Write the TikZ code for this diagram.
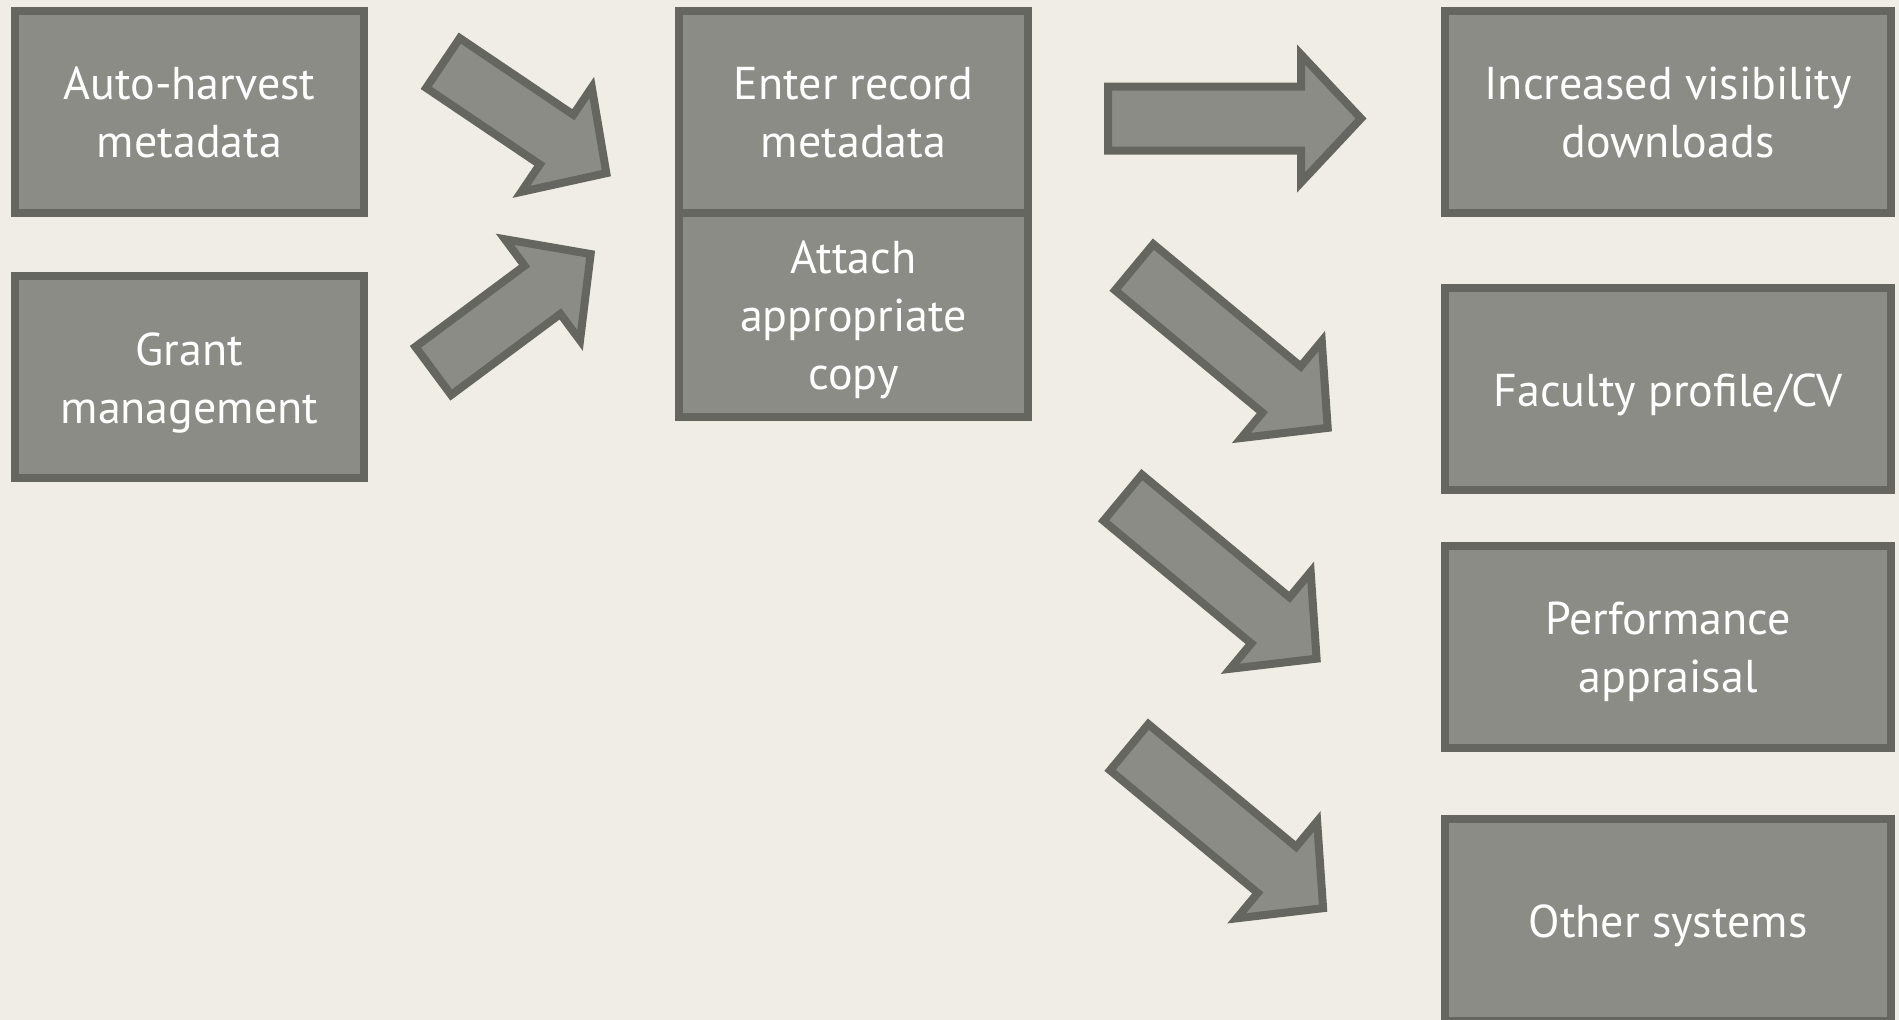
\documentclass[tikz,border=0pt]{standalone}
\usepackage{fontspec}
\setmainfont{PT Sans}
\definecolor{bgc}{HTML}{EFEDE6}
\definecolor{boxfill}{HTML}{8B8C85}
\definecolor{boxline}{HTML}{65665F}
\tikzset{
  box/.style={draw=boxline, fill=boxfill, line width=8pt, inner sep=0pt, minimum height=202pt},
  boxtext/.style={text=white, align=center, inner sep=0pt, yshift=-5.5pt,
    font=\fontsize{46}{58}\selectfont,
    execute at begin node={\vphantom{Ahd}},
    execute at end node={\vphantom{gy}}},
  leftbox/.style={box, minimum width=349pt},
  midbox/.style={box, minimum width=349pt},
  rightbox/.style={box, minimum width=446pt},
  barrow/.style={draw=boxline, fill=boxfill, line width=8pt, line join=miter}
}
% #1 tail coordinate, #2 angle, #3 length, #4 shaft width, #5 head width, #6 head length
\newcommand\blockarrow[6]{%
  \begin{scope}[shift={(#1)}, rotate=#2]
    \draw[barrow] (0,{-#4/2}) -- ({#3-#6},{-#4/2}) -- ({#3-#6},{-#5/2}) -- (#3,0)
      -- ({#3-#6},{#5/2}) -- ({#3-#6},{#4/2}) -- (0,{#4/2}) -- cycle;
  \end{scope}}
\begin{document}
\begin{tikzpicture}[x=1pt,y=-1pt]
\useasboundingbox (0,0) rectangle (1899,1020);
\fill[bgc] (0,0) rectangle (1899,1020);
\clip (0,0) rectangle (1899,1020);

% left boxes
\node[leftbox, label={[boxtext]center:Auto-harvest\\metadata}] (auto) at (189.5,112) {};
\node[leftbox, label={[boxtext]center:Grant\\management}] (grant) at (189.5,377) {};

% middle boxes
\node[midbox, label={[boxtext]center:Enter record\\metadata}] (enter) at (853.5,112) {};
\node[midbox, minimum height=204pt, label={[boxtext]center:Attach\\appropriate\\copy}] (attach) at (853.5,315) {};

% right boxes
\node[rightbox, label={[boxtext]center:Increased visibility\\downloads}] (vis) at (1668,112) {};
\node[rightbox, label={[boxtext]center:Faculty profile/CV}] (fac) at (1668,389) {};
\node[rightbox, label={[boxtext]center:Performance\\appraisal}] (perf) at (1668,647) {};
\node[rightbox, label={[boxtext]center:Other systems}] (other) at (1668,920) {};

% block arrows
\coordinate (a1) at (443,63);
\coordinate (a2) at (433.3,370.9);
\coordinate (a3) at (1108,118.5);
\coordinate (a4) at (1134.2,267.2);
\coordinate (a5) at (1122.7,497.7);
\coordinate (a6) at (1129.2,747.2);
\blockarrow{a1}{-34}{197}{60}{126}{60}
\blockarrow{a2}{36.6}{196}{60}{126}{60}
\blockarrow{a3}{0}{253}{64}{128}{60}
\blockarrow{a4}{-39.7}{251.5}{60}{126}{60}
\blockarrow{a5}{-39.7}{252}{60}{126}{60}
\blockarrow{a6}{-39.7}{252}{60}{126}{60}
\end{tikzpicture}
\end{document}
